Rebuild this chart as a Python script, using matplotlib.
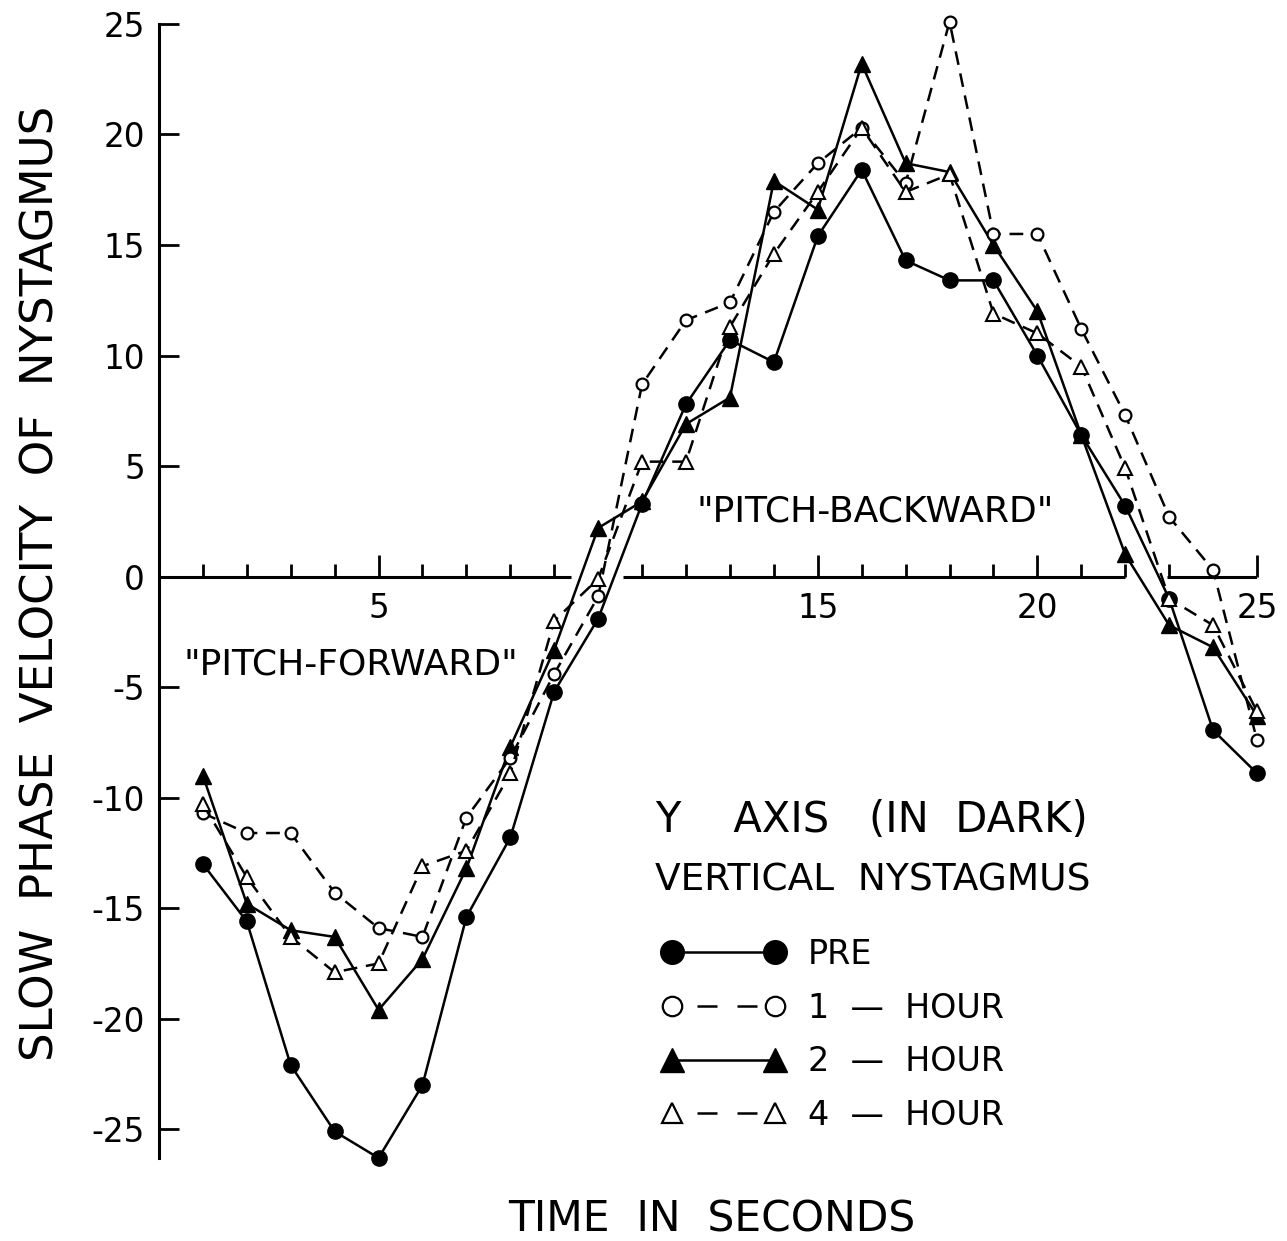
import matplotlib
matplotlib.use("Agg")
import matplotlib.pyplot as plt
from matplotlib.lines import Line2D

plt.rcParams['font.family'] = ['DejaVu Sans']
plt.rcParams['axes.unicode_minus'] = False

# ---- data ----
time_s = list(range(1, 26))
pre = [-13.0, -15.6, -22.1, -25.1, -26.3, -23.0, -15.4, -11.8, -5.2, -1.9,
       3.3, 7.8, 10.7, 9.7, 15.4, 18.4, 14.3, 13.4, 13.4, 10.0,
       6.4, 3.2, -1.0, -6.95, -8.9]
hour1 = [-10.7, -11.6, -11.6, -14.3, -15.9, -16.3, -10.9, -8.2, -4.4, -0.9,
         8.7, 11.6, 12.4, 16.5, 18.7, 20.3, 17.8, 25.1, 15.5, 15.5,
         11.2, 7.3, 2.7, 0.3, -7.4]
hour2 = [-9.0, -14.8, -16.0, -16.3, -19.6, -17.3, -13.2, -7.7, -3.3, 2.2,
         3.4, 6.9, 8.1, 17.9, 16.6, 23.2, 18.7, 18.3, 15.0, 12.0,
         6.4, 1.0, -2.2, -3.2, -6.3]
hour4 = [-10.3, -13.6, -16.3, -17.9, -17.5, -13.1, -12.4, -8.9, -2.0, -0.1,
         5.2, 5.2, 11.3, 14.6, 17.4, 20.3, 17.4, 18.2, 11.9, 11.0,
         9.5, 4.9, -1.0, -2.2, -6.1]

series_labels = ["PRE", "1  —  HOUR", "2  —  HOUR", "4  —  HOUR"]
x_major = [5, 15, 20, 25]
x_minor = [1, 2, 3, 4, 6, 7, 8, 9, 11, 12, 13, 14, 16, 17, 18, 19, 21, 22, 23, 24]
y_ticks = [-25, -20, -15, -10, -5, 0, 5, 10, 15, 20, 25]
axis_seg_start = [0, 10.57, 22.96]
axis_seg_end = [9.38, 22.0, 25]

fig = plt.figure(figsize=(12.87, 12.41), dpi=100)
ax = fig.add_axes([0.1235, 0.0669, 0.8532, 0.9138])

ax.set_xlim(0, 25)
ax.set_ylim(-26.3, 25)

for s in ['top', 'right']:
    ax.spines[s].set_visible(False)
ax.spines['bottom'].set_position(('data', 0))
ax.spines['bottom'].set_visible(False)
ax.spines['left'].set_linewidth(2.2)

# zero axis drawn with the gaps of the original
ax.hlines([0] * len(axis_seg_start), axis_seg_start, axis_seg_end,
          color='k', lw=2.2, zorder=1.5)

ax.set_xticks(x_major)
ax.set_xticks(x_minor, minor=True)
ax.set_xticklabels([str(v) for v in x_major])
ax.tick_params(axis='x', which='major', direction='in', length=16, width=2.0,
               labelsize=23.5, pad=11)
ax.tick_params(axis='x', which='minor', direction='in', length=9.5, width=2.0)

ax.set_yticks(y_ticks)
ax.set_yticklabels([str(v) for v in y_ticks])
ax.tick_params(axis='y', which='major', direction='in', length=14.5, width=2.0,
               labelsize=23.5, pad=10)

dash = (0, (5.5, 3.5))
ax.plot(time_s, pre, '-', color='k', lw=1.8, marker='o', ms=11, mfc='k', mec='k',
        zorder=3, clip_on=False)
ax.plot(time_s, hour1, linestyle=dash, color='k', lw=1.8, marker='o', ms=8.5,
        mfc='white', mec='k', mew=1.6, zorder=4, clip_on=False)
ax.plot(time_s, hour2, '-', color='k', lw=1.8, marker='^', ms=11, mfc='k', mec='k',
        zorder=3, clip_on=False)
ax.plot(time_s, hour4, linestyle=dash, color='k', lw=1.8, marker='^', ms=9.5,
        mfc='white', mec='k', mew=1.5, zorder=4, clip_on=False)

ax.set_ylabel("SLOW  PHASE  VELOCITY  OF  NYSTAGMUS", fontsize=32.5)
ax.set_xlabel("TIME  IN  SECONDS", fontsize=30.5)
ax.xaxis.set_label_coords(0.503, -0.036)
ax.yaxis.set_label_coords(-0.088, 0.507)

ax.text(0.175, 0.435, '"PITCH-FORWARD"', transform=ax.transAxes,
        fontsize=26, ha='center', va='center')
ax.text(0.652, 0.570, '"PITCH-BACKWARD"', transform=ax.transAxes,
        fontsize=26, ha='center', va='center')

ax.text(0.452, 0.298, "Y    AXIS   (IN  DARK)", transform=ax.transAxes,
        fontsize=30, ha='left', va='center')
ax.text(0.452, 0.245, "VERTICAL  NYSTAGMUS", transform=ax.transAxes,
        fontsize=27, ha='left', va='center')

leg_dash = (6, (8, 8))
handles = [
    Line2D([], [], color='k', lw=1.8, marker='o', ms=17, mfc='k', mec='k'),
    Line2D([], [], color='k', lw=1.8, linestyle=leg_dash, marker='o', ms=14,
           mfc='white', mec='k', mew=1.6),
    Line2D([], [], color='k', lw=1.8, marker='^', ms=17, mfc='k', mec='k'),
    Line2D([], [], color='k', lw=1.8, linestyle=leg_dash, marker='^', ms=15,
           mfc='white', mec='k', mew=1.6),
]
ax.legend(handles, series_labels, loc='upper left', bbox_to_anchor=(0.458, 0.194),
          frameon=False, fontsize=24, numpoints=2, handlelength=3.69,
          handletextpad=0.69, labelspacing=0.62, borderpad=0, borderaxespad=0)

fig.savefig("out.png", dpi=100)
